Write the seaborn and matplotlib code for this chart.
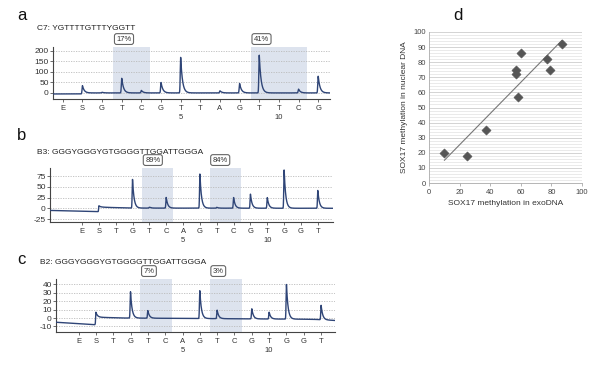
import numpy as np
import pandas as pd
import matplotlib
matplotlib.use("Agg")
import matplotlib.pyplot as plt
import seaborn as sns

# ---------------- data ----------------
a_title = "C7: YGTTTTGTTTYGGTT"
a_disp = list("ESGTCGTTAGTTCG")
a_heights = [0, 35, 3, 70, 12, 50, 170, 0, 10, 45, 180, 0, 18, 80]
a_base_x = [-0.5, 0.97, 1.0, 13.6]
a_base_y = [-5, -5, 0, 0]
a_yticks = [0, 50, 100, 150, 200]
a_regions = [(3, 4), (10, 12)]
a_pct = ["17%", "41%"]

b_title = "B3: GGGYGGGYGTGGGGTTGGATTGGGA"
b_disp = list("ESTGTCAGTCGTGGT")
b_heights = [0, 3, 0, 67, 2, 25, 0, 80, 2, 25, 33, 25, 90, 0, 42]
b_base_x = [-1.9, 0.97, 1.0, 1.6, 2.9, 14.9]
b_base_y = [-5, -8, 3, 2, 0.5, 0]
b_yticks = [-25, 0, 25, 50, 75]
b_regions = [(4, 5), (8, 9)]
b_pct = ["89%", "84%"]

c_title = "B2: GGGYGGGYGTGGGGTTGGATTGGGA"
c_disp = list("ESTGTCAGTCGTGGT")
c_heights = [0, 6, 0, 31, 9, 0, 0, 33, 10, 0, 12, 8, 41, 0, 17]
c_base_x = [-1.3, 0.97, 1.0, 2.5, 13.5, 14.9]
c_base_y = [-5, -8, 1, 0, -1.5, -3]
c_yticks = [-10, 0, 10, 20, 30, 40]
c_regions = [(4, 5), (8, 9)]
c_pct = ["7%", "3%"]

pos_labels = [(6, "5"), (11, "10")]

exo = [10, 25, 37, 57, 57, 58, 60, 77, 79, 87]
nuc = [20, 18, 35, 75, 72, 57, 86, 82, 75, 92]

# ---------------- style ----------------
sns.set_theme(style="white")
plt.rcParams["font.family"] = ["Liberation Sans", "DejaVu Sans"]
plt.rcParams["axes.unicode_minus"] = False

W, H = 596, 366
fig = plt.figure(figsize=(W / 100, H / 100), dpi=100)


def px_axes(x0, y0, x1, y1):
    return fig.add_axes([x0 / W, 1 - y1 / H, (x1 - x0) / W, (y1 - y0) / H])


TRACE = "#2f4577"
SHADE = "#dde3ee"
TXT = "#333333"


def pyrogram(ax, disp, heights, base_x, base_y, xlim, ylim, yticks, regions, pcts, title, letter, title_xy, letter_xy):
    xs = np.linspace(xlim[0], xlim[1], 4000)
    base = np.interp(xs, base_x, base_y)
    y = base.copy()
    for i, h in enumerate(heights):
        t = xs - i
        shape = np.where(t < 0, np.exp(-(t / 0.03) ** 2), np.exp(-t / 0.09))
        y = y + h * shape
    df = pd.DataFrame({"x": xs, "y": y})
    for (r0, r1) in regions:
        ax.axvspan(r0 - 0.43, r1 + 0.42, color=SHADE, lw=0, zorder=0)
    for yt in yticks:
        ax.axhline(yt, color="#bbbbbb", lw=0.6, ls=(0, (1.5, 1.5)), zorder=1)
    sns.lineplot(data=df, x="x", y="y", ax=ax, color=TRACE, lw=1.0, zorder=3, estimator=None, sort=False)
    ax.set_xlim(*xlim)
    ax.set_ylim(*ylim)
    ax.set_xticks(range(len(disp)))
    ax.set_xticklabels(disp)
    ax.set_yticks(yticks)
    ax.set_xlabel("")
    ax.set_ylabel("")
    ax.tick_params(axis="x", length=2.5, width=0.6, color="#555555", labelsize=5.5, labelcolor=TXT, pad=1.5, bottom=True)
    ax.tick_params(axis="y", length=2, width=0.6, color="#555555", labelsize=6, labelcolor=TXT, pad=1, left=True)
    for s in ["top", "right"]:
        ax.spines[s].set_visible(False)
    for s in ["left", "bottom"]:
        ax.spines[s].set_color("#444444")
        ax.spines[s].set_linewidth(0.8)
    ax.set_facecolor("none")
    for xi, lab in pos_labels:
        ax.annotate(lab, xy=(xi, 0), xycoords=("data", "axes fraction"), xytext=(0, -13.5),
                    textcoords="offset points", ha="center", va="center", fontsize=5.5, color=TXT)
    for (r0, r1), p in zip(regions, pcts):
        ax.annotate(p, xy=(r0 - 0.43, 1), xycoords=("data", "axes fraction"), xytext=(2.2, 3.2),
                    textcoords="offset points", ha="left", va="bottom", fontsize=5.5, color=TXT,
                    bbox=dict(boxstyle="round,pad=0.25,rounding_size=0.3", fc="white", ec="#666666", lw=0.8))
    fig.text(title_xy[0] / W, 1 - title_xy[1] / H, title, fontsize=6, color="#222222", ha="left", va="center")
    fig.text(letter_xy[0] / W, 1 - letter_xy[1] / H, letter, fontsize=12, color="#111111", ha="center", va="center")


ax_a = px_axes(53, 47, 330, 99)
pyrogram(ax_a, a_disp, a_heights, a_base_x, a_base_y, (-0.5, 13.6), (-29, 219), a_yticks,
         a_regions, a_pct, a_title, "a", (37, 28), (22, 16))

ax_b = px_axes(50, 168, 333, 222)
pyrogram(ax_b, b_disp, b_heights, b_base_x, b_base_y, (-1.9, 14.9), (-32, 94), b_yticks,
         b_regions, b_pct, b_title, "b", (37, 152), (22, 136))

ax_c = px_axes(56, 279, 335, 332)
pyrogram(ax_c, c_disp, c_heights, c_base_x, c_base_y, (-1.3, 14.8), (-16.5, 46), c_yticks,
         c_regions, c_pct, c_title, "c", (40, 263), (21, 259))

# ---------------- panel d ----------------
ax_d = px_axes(429, 32, 582, 183)
df_d = pd.DataFrame({"exo": exo, "nuc": nuc})
ax_d.set_yticks(np.arange(0, 101, 2), minor=True)
ax_d.grid(which="minor", axis="y", color="#e2e2e2", lw=0.5)
ax_d.grid(which="major", axis="y", color="#cccccc", lw=0.6)
ax_d.grid(which="major", axis="x", visible=False)
ax_d.set_axisbelow(True)
sns.regplot(data=df_d, x="exo", y="nuc", ax=ax_d, ci=None, scatter=False,
            line_kws=dict(color="#777777", lw=0.8))
sns.scatterplot(data=df_d, x="exo", y="nuc", ax=ax_d, marker="D", s=22, color="#555555",
                edgecolor="#555555", zorder=4)
ax_d.set_xlim(0, 100)
ax_d.set_ylim(0, 100)
ax_d.set_xticks(range(0, 101, 20))
ax_d.set_yticks(range(0, 101, 10))
ax_d.tick_params(axis="both", which="major", labelsize=5.5, labelcolor="#444444", pad=2)
ax_d.tick_params(axis="x", which="major", length=2, width=0.5, color="#999999", bottom=True)
ax_d.tick_params(axis="y", which="both", length=0, left=False)
for s in ["top", "right"]:
    ax_d.spines[s].set_visible(False)
for s in ["left", "bottom"]:
    ax_d.spines[s].set_color("#aaaaaa")
    ax_d.spines[s].set_linewidth(0.6)
ax_d.set_xlabel("SOX17 methylation in exoDNA", fontsize=6, color="#333333", labelpad=3)
ax_d.set_ylabel("SOX17 methylation in nuclear DNA", fontsize=6, color="#333333", labelpad=4)
fig.text(458 / W, 1 - 15 / H, "d", fontsize=12, color="#111111", ha="center", va="center")

fig.savefig("out.png", dpi=100)
